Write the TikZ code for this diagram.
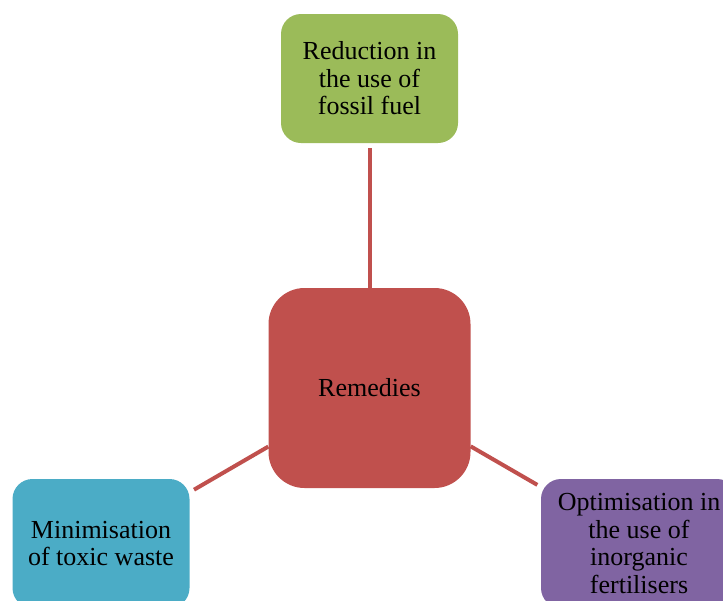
\documentclass[tikz,border=0pt]{standalone}
\usepackage{fontspec}
\setmainfont{Liberation Serif}
\definecolor{topgreen}{HTML}{9BBB59}
\definecolor{hubred}{HTML}{C0504D}
\definecolor{leftblue}{HTML}{4BACC6}
\definecolor{rightpurple}{HTML}{8064A2}
\begin{document}
\begin{tikzpicture}[x=1pt,y=-1pt,
  every node/.style={font=\fontsize{26}{27.5}\selectfont},
  leaf/.style={rounded corners=20pt,align=center,minimum width=177pt,minimum height=129pt,inner sep=0pt},
  link/.style={hubred,line width=4pt}]
\useasboundingbox (0,0) rectangle (723,600);
\node[fill=hubred,rounded corners=36pt,minimum width=202pt,minimum height=200pt] (hub) at (369.5,388) {Remedies};
\node[leaf,fill=topgreen] (fuel) at (369.5,78.5) {Reduction in\\the use of\\fossil fuel};
\node[leaf,fill=leftblue] (waste) at (101,543.5) {Minimisation\\of toxic waste};
\node[leaf,fill=rightpurple,minimum width=196pt] (fert) at (639,543.5) {Optimisation in\\the use of\\inorganic\\fertilisers};
\draw[link,shorten <=5pt] (fuel)--(hub);
\draw[link,shorten <=5pt] (waste)--(hub);
\draw[link,shorten <=4pt] (fert)--(hub);
\end{tikzpicture}
\end{document}
